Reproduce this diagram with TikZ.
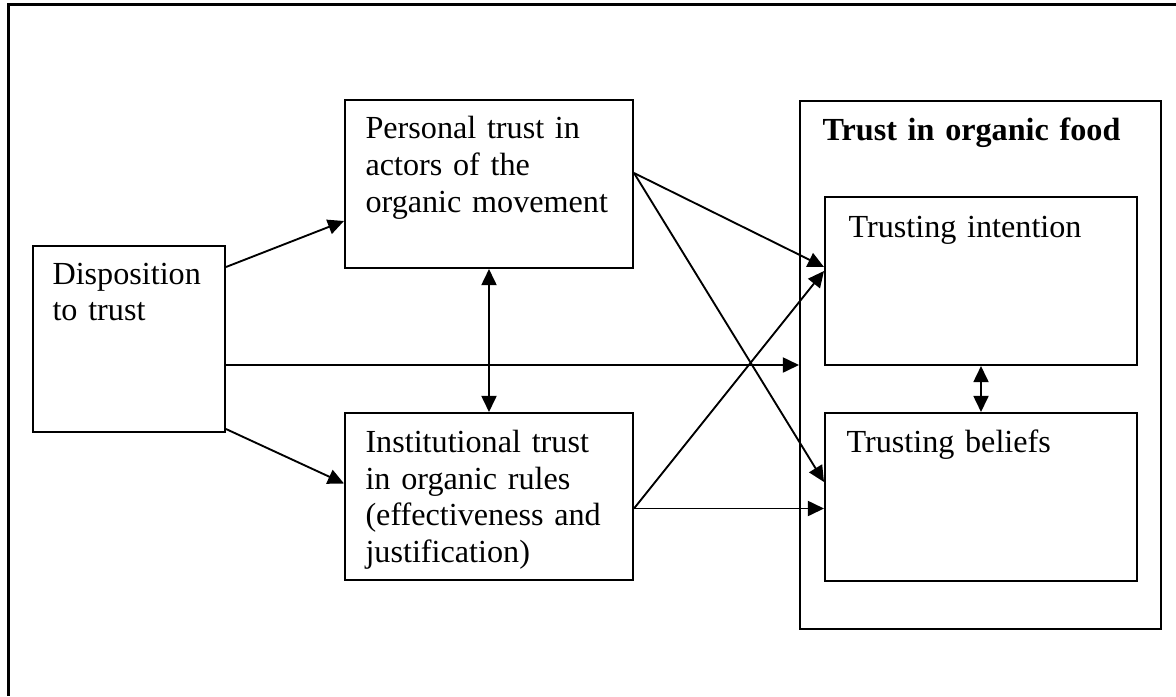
\documentclass[tikz,border=0pt]{standalone}
\usepackage{fontspec}
\setmainfont{Liberation Serif}
\usetikzlibrary{arrows.meta,fit}

\tikzset{
  box/.style={rectangle, draw, line width=0.75pt, inner sep=0pt, fit={#1}},
  txt/.style={anchor=base west, inner sep=0pt, align=left, text width=#1,
    font=\fontsize{12}{13.8}\selectfont},
  arr/.style={line width=0.7pt, -{Triangle[length=6pt,width=5.6pt]}},
  darr/.style={line width=0.7pt, {Triangle[length=6pt,width=5.6pt]}-{Triangle[length=6pt,width=5.6pt]}}
}

\begin{document}
\begin{tikzpicture}[x=0.373pt, y=-0.373pt]
            \useasboundingbox (0,0) rectangle (1176,696);
            \draw[line width=0.9pt] (1176,4.5) -- (8.5,4.5) -- (8.5,696);

            \node[box={(33,246) (225,432)}] (disp) {};
            \node[box={(345,100) (633,268)}] (pers) {};
            \node[box={(345,413) (633,580)}] (inst) {};
            \node[box={(800,101) (1161,629)}] (food) {};
            \node[box={(825,197) (1137,365)}] (intent) {};
            \node[box={(825,413) (1137,581)}] (belief) {};

            \node[txt=160pt] (dispText) at ([shift={(20,39)}]disp.north west) {Disposition\\to trust};
            \node[txt=100pt] (persText) at ([shift={(21,40)}]pers.north west) {Personal trust in\\actors of the\\organic movement};
            \node[txt=100pt] (instText) at ([shift={(21,40)}]inst.north west) {Institutional trust\\in organic rules\\(effectiveness and\\justification)};
            \node[txt=130pt, font=\fontsize{12}{13.8}\selectfont\bfseries] (foodText) at ([shift={(23,41)}]food.north west) {Trust in organic food};
            \node[txt=110pt] (intentText) at ([shift={(24,41)}]intent.north west) {Trusting intention};
            \node[txt=110pt] (beliefText) at ([shift={(22,40)}]belief.north west) {Trusting beliefs};

            \draw[arr] ([shift={(0,22)}]disp.north east) -- ([shift={(0,37)}]pers.west);
            \draw[arr] ([shift={(0,-4)}]disp.south east) -- ([shift={(0,-13)}]inst.west);
            \draw[arr] (disp.east |- food.west) -- (food.west);

            \draw[arr] ([shift={(0,-11)}]pers.east) -- ([shift={(0,-14)}]intent.west);
            \draw[arr] ([shift={(0,-11)}]pers.east) -- ([shift={(0,-15)}]belief.west);
            \draw[arr] ([shift={(0,12)}]inst.east) -- ([shift={(0,-10)}]intent.west);
            \draw[arr] ([shift={(0,12)}]inst.east) -- ([shift={(0,12)}]inst.east -| belief.west);

            \draw[darr] (pers.south) -- (inst.north);
            \draw[darr] (intent.south) -- (belief.north);
\end{tikzpicture}
\end{document}
